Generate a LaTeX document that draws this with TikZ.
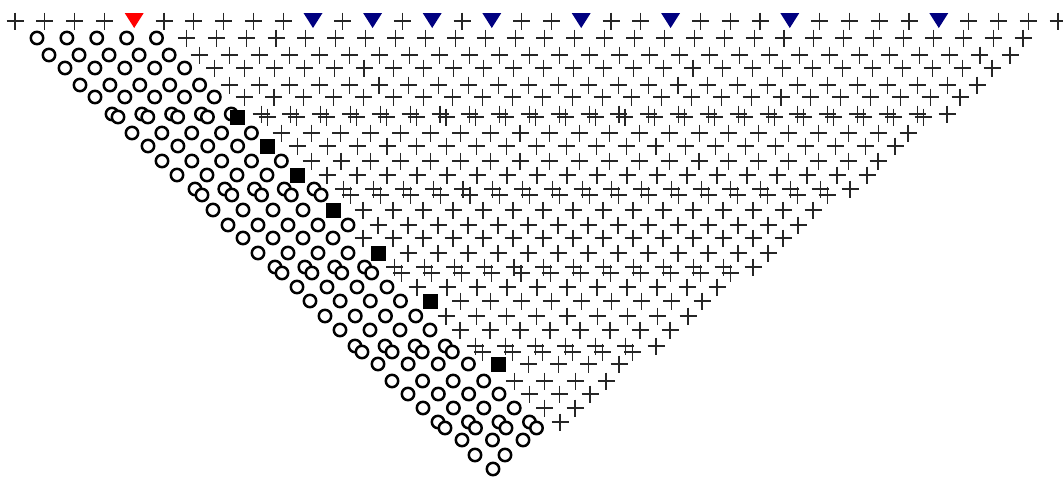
\documentclass[tikz,border=0pt]{standalone}
\usetikzlibrary{calc}

\definecolor{trigred}{RGB}{255,0,0}
\definecolor{trigblue}{RGB}{0,0,128}

\tikzset{
    plusmark/.style={line width=1.1pt, black!85},
    ringmark/.style={line width=2.5pt, draw=black, fill=white},
    seedmark/.style={fill=black},
    trigmark/.style={fill=trigblue},
}

% one hit: 0 = ring, 1 = plus, 2 = seed
\newcommand{\hitmark}[3]{%
    \ifcase#1
        \filldraw [ringmark] (#2,#3) circle [radius=6.2];
    \or
        \draw [plusmark] (#2,#3) ++(-8.5,0) -- ++(17,0) ++(-8.5,-8.5) -- ++(0,17);
    \or
        \fill [seedmark] (#2,#3) ++(-7.5,-7.5) rectangle ++(15,15);
    \fi
}

\begin{document}
\begin{tikzpicture}[x=1pt, y=-1pt]

    \useasboundingbox (0,0) rectangle (1063,480);

    %%%%%%%%%%%%%%%%%%%%%%%%%%
    % Top row with triggers
    %%%%%%%%%%%%%%%%%%%%%%%%%%
    \def\ytop{21}
    \def\xtop{15}
    \def\dtop{29.8}
    \foreach \k in {0,1,2,3,5,6,7,8,9,11,13,15,17,18,20,21,23,24,25,27,28,29,30,32,33,34,35}{
        \pgfmathsetmacro{\x}{\xtop+\k*\dtop}
        \hitmark{1}{\x}{\ytop}
    }
    % red trigger
    \fill [trigred] ({\xtop+4*\dtop-9.5},13) -- ++(19,0) -- ++(-9.5,15) -- cycle;
    % blue triggers
    \foreach \k in {10,12,14,16,19,22,26,31}
        \fill [trigmark] ({\xtop+\k*\dtop-9.5},13) -- ++(19,0) -- ++(-9.5,15) -- cycle;

    %%%%%%%%%%%%%%%%%%%%%%%%%%
    % Rows of hits
    %%%%%%%%%%%%%%%%%%%%%%%%%%
    % y / first x / last x / rings / seed / shift of twin row
    \foreach \y/\xl/\xr/\nr/\sd/\dx/\dy in {
        38/37/1023/5/0/0/0,
        55/49/1010/5/0/0/0,
        68/65/992/5/0/0/0,
        85/80/977/5/0/0/0,
        97/95/960/5/0/0/0,
        114/112/947/5/2/6/3,
        133/132/908/5/0/0/0,
        146/148/895/4/1/0/0,
        161/162/878/5/0/0/0,
        175/177/867/4/1/0/0,
        189/195/850/5/0/7/6,
        210/213/813/4/1/0/0,
        225/228/798/5/0/0/0,
        238/243/783/4/0/0/0,
        253/258/768/4/1/0/0,
        267/275/753/4/0/7/6,
        287/297/717/4/0/0/0,
        301/310/702/4/1/0/0,
        316/325/688/4/0/0/0,
        330/340/670/4/0/0/0,
        346/355/656/4/0/7/6,
        364/378/619/4/1/0/0,
        381/392/606/4/0/0/0,
        394/408/590/4/0/0/0,
        408/423/575/4/0/0/0,
        422/438/560/4/0/7/6,
        440/462/523/9/0/0/0,
        455/475/505/9/0/0/0,
        469/493/493/9/0/0/0}{
        \pgfmathtruncatemacro{\n}{round((\xr-\xl)/30)}
        \pgfmathsetmacro{\dist}{(\xr-\xl)/max(\n,1)}
        \foreach \k in {0,...,\n}{
            \pgfmathsetmacro{\x}{\xl+\k*\dist}
            \pgfmathtruncatemacro{\tp}{\k<\nr ? 0 : (and(\k==\nr,\sd==1) ? 2 : 1)}
            \hitmark{\tp}{\x}{\y}
        }
        % twin row, last hit stays single
        \ifnum\dx>0
            \pgfmathtruncatemacro{\m}{\n-1}
            \pgfmathsetmacro{\yy}{\y+\dy}
            \foreach \k in {0,...,\m}{
                \pgfmathsetmacro{\x}{\xl+\k*\dist+\dx}
                \pgfmathtruncatemacro{\tp}{\k<\nr ? (and(\k==\nr-1,\sd==2) ? 2 : 0) : 1}
                \hitmark{\tp}{\x}{\yy}
            }
        \fi
    }
\end{tikzpicture}
\end{document}
